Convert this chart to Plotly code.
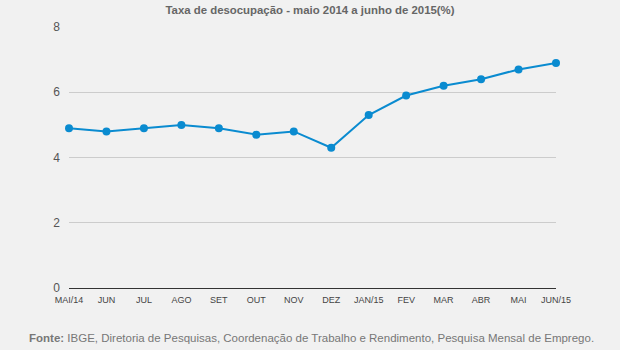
import plotly.graph_objects as go

months = ["MAI/14", "JUN", "JUL", "AGO", "SET", "OUT", "NOV", "DEZ",
          "JAN/15", "FEV", "MAR", "ABR", "MAI", "JUN/15"]
rate = [4.9, 4.8, 4.9, 5.0, 4.9, 4.7, 4.8, 4.3, 5.3, 5.9, 6.2, 6.4, 6.7, 6.9]
y_ticks = [0, 2, 4, 6, 8]

fig = go.Figure()
fig.add_trace(go.Scatter(
    x=list(range(len(months))), y=rate, mode="lines+markers",
    line=dict(color="#0a8bd0", width=2),
    marker=dict(color="#0a8bd0", size=8),
    hoverinfo="skip", showlegend=False, cliponaxis=False,
))

fig.update_layout(
    width=620, height=350,
    margin=dict(l=69, r=64, t=27, b=62),
    paper_bgcolor="#f1f1f1", plot_bgcolor="#f1f1f1",
    font=dict(family="Liberation Sans, Arial, sans-serif", color="#555555"),
    title=dict(text="<b>Taxa de desocupação - maio 2014 a junho de 2015(%)</b>",
               x=0.5, xanchor="center", y=0.97, yanchor="middle",
               font=dict(size=11.4, color="#666666")),
    xaxis=dict(
        range=[0, len(months) - 1],
        tickmode="array", tickvals=list(range(len(months))), ticktext=months,
        showgrid=False, zeroline=False, showline=False,
        tickfont=dict(size=9, color="#444444"),
        ticks="outside", ticklen=3, tickcolor="rgba(0,0,0,0)",
    ),
    yaxis=dict(
        range=[0, 8], tickvals=y_ticks,
        showgrid=True, gridcolor="#cccccc", gridwidth=1,
        zeroline=True, zerolinecolor="#333333", zerolinewidth=1,
        showline=False, ticks="", ticklabelstandoff=8,
        tickfont=dict(size=12, color="#555555"),
    ),
)

fig.add_annotation(
    text="<b>Fonte:</b> IBGE, Diretoria de Pesquisas, Coordenação de Trabalho e Rendimento, Pesquisa Mensal de Emprego.",
    xref="paper", yref="paper", x=0, y=-50/261,
    xanchor="left", yanchor="middle", showarrow=False,
    font=dict(size=11.5, color="#777777"), xshift=27 - 69,
)

fig.write_html("out.html")
